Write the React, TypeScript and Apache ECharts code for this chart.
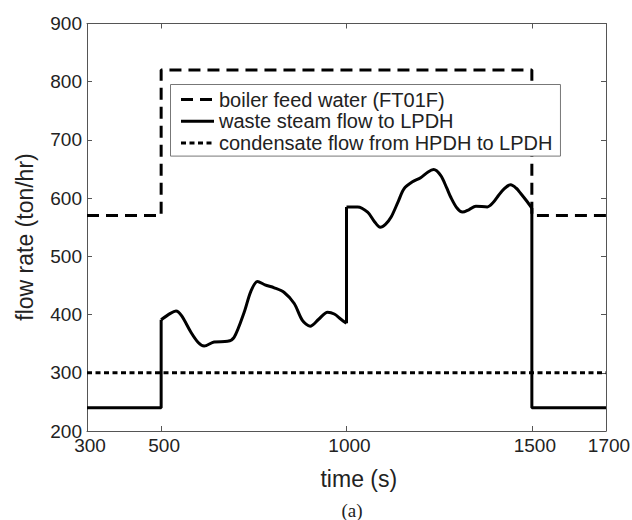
import React, { useEffect, useRef } from "react";
import * as echarts from "echarts";

const xTickLabels = [300, 500, 1000, 1500, 1700];
const xTickMarks = [500, 1000, 1500];

const legendNames = [
  "boiler feed water (FT01F)",
  "waste steam flow to LPDH",
  "condensate flow from HPDH to LPDH",
];

const boilerTimes = [300, 500, 500, 1500, 1500, 1700];
const boilerFlow = [570, 570, 820, 820, 570, 570];

const condensateTimes = [300, 1700];
const condensateFlow = [300, 300];

const steamStartTimes = [300, 500, 500];
const steamStartFlow = [240, 240, 391];

const steamTimesA = [500, 525, 540, 555, 580, 600, 616, 643, 679, 697, 724, 742, 760, 780, 805, 832, 859, 881, 902, 925, 949, 967, 985, 1000];
const steamFlowA = [391, 402, 406, 398, 370, 352, 346, 353, 354, 361, 404, 440, 457, 451, 446, 438, 419, 390, 380, 392, 404, 401, 392, 385];

const steamJumpTimes = [1000, 1000];
const steamJumpFlow = [385, 585];

const steamTimesB = [1000, 1030, 1057, 1075, 1091, 1105, 1120, 1140, 1155, 1178, 1200, 1220, 1235, 1254, 1270, 1281, 1298, 1313, 1330, 1349, 1380, 1395, 1407, 1425, 1443, 1458, 1470, 1485, 1500];
const steamFlowB = [585, 585, 576, 560, 550, 555, 567, 595, 616, 628, 635, 645, 649, 639, 618, 602, 583, 576, 580, 586, 585, 592, 602, 616, 623, 617, 608, 596, 583];

const steamEndTimes = [1500, 1500, 1700];
const steamEndFlow = [583, 240, 240];

const zip = (xs: number[], ys: number[]) => xs.map((x, i) => [x, ys[i]]);

const AXIS_COLOR = "#555";
const TEXT_COLOR = "#222";
const FONT = "Liberation Sans";

export default function App() {
  const ref = useRef<HTMLDivElement>(null);
  useEffect(() => {
    if (!ref.current) return;
    const chart = echarts.init(ref.current, undefined, { renderer: "svg" });

    const steamLine = { color: "#000", width: 3, type: "solid" as const };
    const steamSeries = (data: number[][], smooth: number | boolean) => ({
      name: legendNames[1],
      type: "line",
      data,
      smooth,
      symbol: "none",
      lineStyle: steamLine,
      itemStyle: { color: "#000" },
      z: 3,
    });

    const axisLine = { show: true, onZero: false, lineStyle: { color: AXIS_COLOR, width: 1 } };

    const option: any = {
      animation: false,
      textStyle: { fontFamily: FONT },
      grid: { left: 87, right: 26, top: 23.5, bottom: 89, containLabel: false, outerBoundsMode: "none" },
      legend: {
        data: legendNames,
        orient: "vertical",
        left: 170.5,
        top: 84.5,
        padding: [5, 8, 3, 9],
        itemWidth: 33,
        itemHeight: 14,
        itemGap: 1.8,
        backgroundColor: "#fff",
        borderColor: "#777",
        borderWidth: 1,
        borderRadius: 0,
        selectedMode: false,
        lineStyle: { width: 3 },
        itemStyle: { color: "rgba(0,0,0,0)", borderWidth: 0, opacity: 0 },
        textStyle: { fontSize: 20, color: TEXT_COLOR, fontFamily: FONT, lineHeight: 20 },
      },
      xAxis: [
        {
          type: "value",
          min: 300,
          max: 1700,
          position: "bottom",
          axisLine,
          axisTick: { show: true, inside: true, length: 5, customValues: xTickMarks, lineStyle: { color: AXIS_COLOR } },
          axisLabel: {
            customValues: xTickLabels,
            formatter: (v: number) => String(v),
            fontSize: 19,
            color: TEXT_COLOR,
            margin: 5,
            fontFamily: FONT,
            padding: [0, 0, 0, 6],
          },
          splitLine: { show: false },
        },
        {
          type: "value",
          min: 300,
          max: 1700,
          position: "top",
          axisLine,
          axisTick: { show: true, inside: true, length: 5, customValues: xTickMarks, lineStyle: { color: AXIS_COLOR } },
          axisLabel: { show: false },
          splitLine: { show: false },
        },
      ],
      yAxis: [
        {
          type: "value",
          min: 200,
          max: 900,
          interval: 100,
          position: "left",
          axisLine,
          axisTick: { show: true, inside: true, length: 5, lineStyle: { color: AXIS_COLOR } },
          axisLabel: { fontSize: 19, color: TEXT_COLOR, margin: 5, fontFamily: FONT, formatter: (v: number) => String(v) },
          splitLine: { show: false },
        },
        {
          type: "value",
          min: 200,
          max: 900,
          interval: 100,
          position: "right",
          axisLine,
          axisTick: { show: true, inside: true, length: 5, lineStyle: { color: AXIS_COLOR } },
          axisLabel: { show: false },
          splitLine: { show: false },
        },
      ],
      series: [
        {
          name: legendNames[0],
          type: "line",
          data: zip(boilerTimes, boilerFlow),
          symbol: "none",
          lineStyle: { color: "#000", width: 3, type: [12, 7] },
          itemStyle: { color: "#000" },
          z: 2,
        },
        steamSeries(zip(steamStartTimes, steamStartFlow), false),
        steamSeries(zip(steamTimesA, steamFlowA), 0.3),
        steamSeries(zip(steamJumpTimes, steamJumpFlow), false),
        steamSeries(zip(steamTimesB, steamFlowB), 0.3),
        steamSeries(zip(steamEndTimes, steamEndFlow), false),
        {
          name: legendNames[2],
          type: "line",
          data: zip(condensateTimes, condensateFlow),
          symbol: "none",
          lineStyle: { color: "#000", width: 3, type: [5, 3.5] },
          itemStyle: { color: "#000" },
          z: 2,
        },
      ],
      graphic: [
        {
          type: "text",
          x: 358.8,
          y: 479,
          style: {
            text: "time (s)",
            font: `23px "${FONT}"`,
            fill: TEXT_COLOR,
            align: "center",
            verticalAlign: "middle",
            textAlign: "center",
            textVerticalAlign: "middle",
          },
        },
        {
          type: "text",
          x: 25,
          y: 237,
          rotation: Math.PI / 2,
          style: {
            text: "flow rate (ton/hr)",
            font: `23px "${FONT}"`,
            fill: TEXT_COLOR,
            align: "center",
            verticalAlign: "middle",
            textAlign: "center",
            textVerticalAlign: "middle",
          },
        },
        {
          type: "text",
          x: 352,
          y: 510,
          style: {
            text: "(a)",
            font: `19px "Liberation Serif"`,
            fill: TEXT_COLOR,
            align: "center",
            verticalAlign: "middle",
            textAlign: "center",
            textVerticalAlign: "middle",
          },
        },
      ],
    };

    chart.setOption(option);
    return () => chart.dispose();
  }, []);

  return (
    <div
      ref={ref}
      style={{ position: "fixed", left: 0, top: 0, width: 632, height: 520, background: "#fff" }}
    />
  );
}
